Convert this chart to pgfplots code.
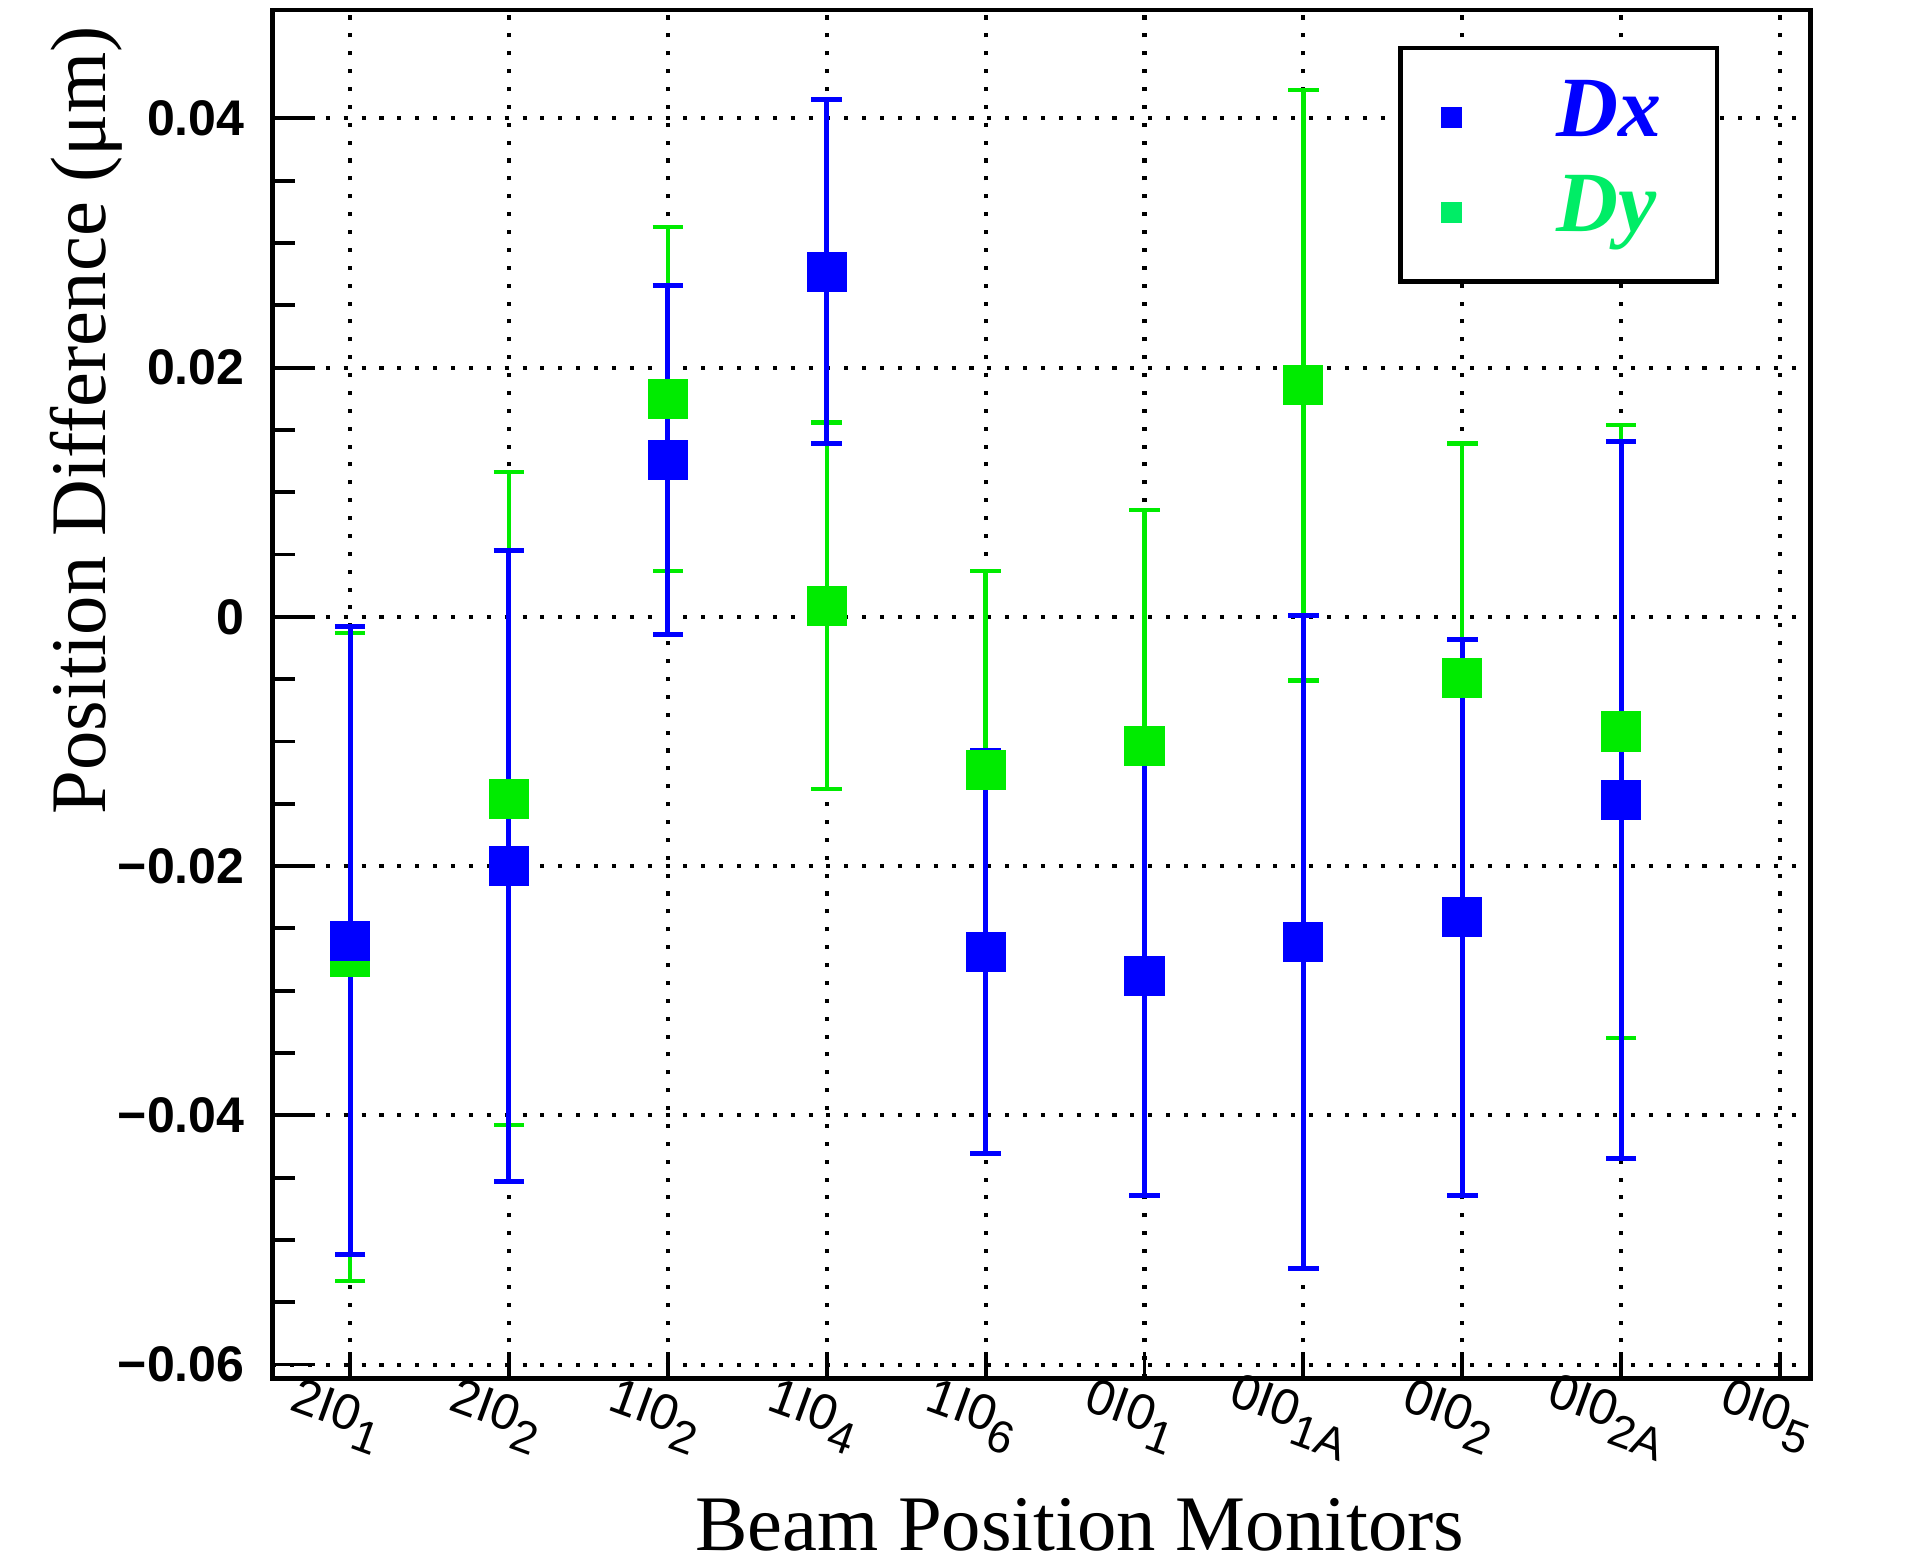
\documentclass[border=0pt]{standalone}
\usepackage{fontspec}
\setmainfont{Liberation Serif}
\newfontfamily\tickfont{Liberation Sans}
\usepackage{pgfplots}
\pgfplotsset{compat=1.18}

\definecolor{dxblue}{rgb}{0,0,1}
\definecolor{dygreen}{rgb}{0,0.92,0}
\definecolor{dylegend}{rgb}{0,0.93,0.4}

% monitor name with dropped subscript, ROOT style
\newcommand{\bpm}[2]{#1\raisebox{-0.6ex}{\fontsize{9.5}{9.5}\selectfont #2}}

\begin{document}
\begin{tikzpicture}
\begin{axis}[
  scale only axis,
  width=322.6pt, height=287pt,
  xmin=-0.49, xmax=9.19,
  ymin=-0.0611, ymax=0.0487,
  scaled y ticks=false,
  xtick={0,...,9},
  xticklabels={\bpm{2I0}{1},\bpm{2I0}{2},\bpm{1I0}{2},\bpm{1I0}{4},\bpm{1I0}{6},\bpm{0I0}{1},\bpm{0I0}{1A},\bpm{0I0}{2},\bpm{0I0}{2A},\bpm{0I0}{5}},
  ytick={-0.06,-0.04,-0.02,0,0.02,0.04},
  yticklabels={−0.06,−0.04,−0.02,0,0.02,0.04},
  minor y tick num=3,
  tick align=inside, tick pos=left,
  major tick length=9pt, minor tick length=4.8pt,
  xtick style={/pgfplots/major tick length=5.5pt},
  every tick/.style={black, line width=0.8pt},
  axis line style={line width=1pt},
  grid=major,
  major grid style={black, line width=0.85pt, dash pattern=on 0.85pt off 2.9pt},
  xticklabel style={font=\tickfont\fontsize{10.5}{11}\selectfont, rotate=-20, anchor=north, inner sep=0pt, yshift=-3pt},
  yticklabel style={font=\tickfont\bfseries\fontsize{10.5}{12}\selectfont, anchor=east, inner sep=0pt, xshift=-5.6pt},
  xlabel={Beam Position Monitors},
  xlabel style={font=\fontsize{16.5}{18}\selectfont, at={(axis description cs:0.525,-0.087)}, anchor=north, inner sep=0pt},
  ylabel={Position Difference (μm)},
  ylabel style={font=\fontsize{16.5}{18}\selectfont, at={(axis description cs:-0.145,0.70)}, anchor=north, inner sep=0pt},
  legend style={at={(axis description cs:0.732,0.974)}, anchor=north west, draw=black, line width=1pt, fill=white,
    inner xsep=8.6pt, inner ysep=6.5pt, row sep=4pt,
    font=\fontsize{18}{20}\selectfont\bfseries\itshape,
    nodes={inner sep=0pt, text height=12pt, text depth=4pt, text width=25pt}},
  legend image post style={mark size=2.1pt, line width=0.2pt},
  /tikz/every odd column/.append style={column sep=20pt},
]

% Dy drawn first so Dx sits on top
\addplot[only marks, mark=square*, mark size=4pt, color=dygreen, forget plot,
  error bars/.cd, y dir=both, y explicit,
  error bar style={line width=0.9pt, dygreen},
  error mark options={rotate=90, mark size=3.2pt, line width=0.9pt, dygreen}]
  table[x=x, y=y, y error=e] {
x y e
0 -0.0273 0.0260
1 -0.0146 0.0262
2 0.0175 0.0138
3 0.0009 0.0147
4 -0.0123 0.0160
5 -0.0104 0.0190
6 0.0186 0.0237
7 -0.0049 0.0188
8 -0.0092 0.0246
};

\addplot[only marks, mark=square*, mark size=4pt, color=dxblue,
  error bars/.cd, y dir=both, y explicit,
  error bar style={line width=1.05pt, dxblue},
  error mark options={rotate=90, mark size=3.2pt, line width=1.05pt, dxblue}]
  table[x=x, y=y, y error=e] {
x y e
0 -0.0260 0.0252
1 -0.0200 0.0253
2 0.0126 0.0140
3 0.0277 0.0138
4 -0.0269 0.0162
5 -0.0288 0.0176
6 -0.0261 0.0262
7 -0.0241 0.0223
8 -0.0147 0.0288
};
\addlegendentry{\textcolor{dxblue}{Dx}}
\addlegendimage{only marks, mark=square*, color=dylegend}
\addlegendentry{\textcolor{dylegend}{Dy}}
\end{axis}
\path ([xshift=-57.1pt,yshift=-38.8pt]current axis.south west) rectangle ([xshift=20.3pt,yshift=2.1pt]current axis.north east);
\end{tikzpicture}
\end{document}
